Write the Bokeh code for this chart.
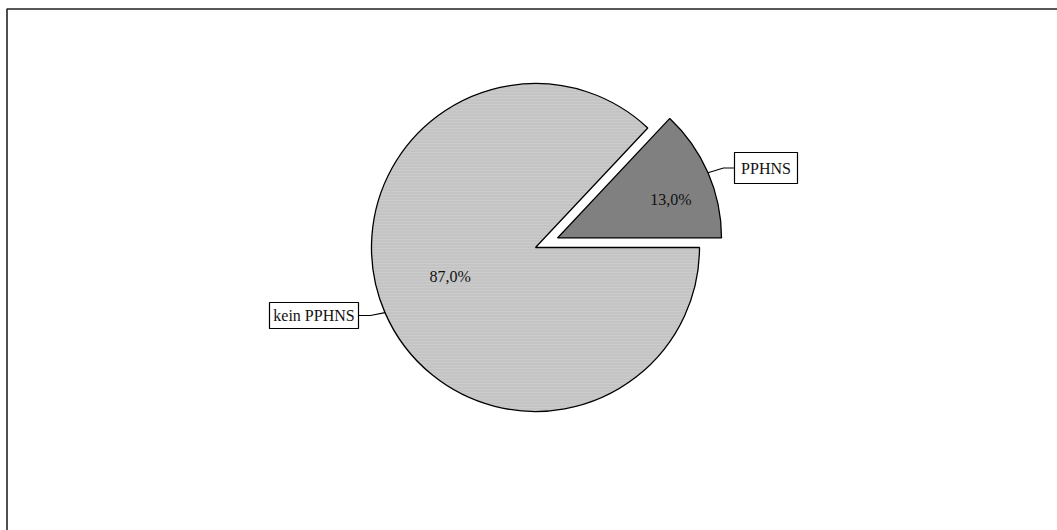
import math
from bokeh.plotting import figure
from bokeh.models import Range1d, ColumnDataSource
from bokeh.core.properties import value
from bokeh.embed import file_html
from bokeh.resources import INLINE

# Share of cases with and without PPHNS
categories = ["PPHNS", "kein PPHNS"]
shares = [13.0, 87.0]
share_labels = ["13,0%", "87,0%"]
slice_colors = ["#808080", "#c4c4c4"]
stripe_colors = ["#808080", "#d2d2d2"]

W, H = 1057, 530
FONT = "Liberation Serif"


def Y(py):
    """Convert a top-down pixel row to the plot's bottom-up y coordinate."""
    return H - py


p = figure(width=W, height=H, output_backend="svg", toolbar_location=None,
           x_range=Range1d(0, W), y_range=Range1d(0, H), min_border=0)
p.axis.visible = False
p.grid.visible = False
p.outline_line_color = None
p.background_fill_color = "white"
p.border_fill_color = "white"

# chart area frame (runs off the right and bottom edge)
p.line([1070, 6.5, 6.5], [Y(8.5), Y(8.5), Y(545)], line_color="#222222", line_width=1.6)

# pie geometry
cx, cy, r = 535.0, Y(247), 164.0
explode = 24.0
total = sum(shares)

starts, ends = [], []
acc = 0.0
for s in shares:
    starts.append(2 * math.pi * acc / total)
    acc += s
    ends.append(2 * math.pi * acc / total)

xs, ys, mids = [], [], []
for i, cat in enumerate(categories):
    mid = (starts[i] + ends[i]) / 2
    mids.append(mid)
    off = explode if cat == "PPHNS" else 0.0
    xs.append(cx + off * math.cos(mid))
    ys.append(cy + off * math.sin(mid))

src = ColumnDataSource(dict(x=xs, y=ys, start=starts, end=ends, color=slice_colors,
                            stripe=stripe_colors, label=share_labels, cat=categories))
p.wedge(x="x", y="y", radius=r, start_angle="start", end_angle="end",
        fill_color="color", line_color="black", line_width=1.3,
        hatch_pattern="horizontal_line", hatch_color="stripe", hatch_alpha=0.5,
        hatch_scale=3, hatch_weight=1, source=src)

# percentage labels inside the slices
lab_r = [0.73, 0.55]
tilt = math.radians(-4.5)
lx = [xs[i] + lab_r[i] * r * math.cos(mids[i] + tilt) for i in range(2)]
ly = [ys[i] + lab_r[i] * r * math.sin(mids[i] + tilt) for i in range(2)]
p.text(x=lx, y=ly, text=share_labels, text_font=value(FONT), text_font_size="16px",
       text_color="#111111", text_align="center", text_baseline="middle")

# category callouts: boxed label plus leader line to the arc
boxes = {
    "PPHNS": (734, 797, 152, 183),
    "kein PPHNS": (269, 358, 302, 328),
}
for i, cat in enumerate(categories):
    l, rgt, t, b = boxes[cat]
    p.quad(left=l, right=rgt, top=Y(t), bottom=Y(b), fill_color="white",
           line_color="black", line_width=1.2)
    p.text(x=[(l + rgt) / 2], y=[Y((t + b) / 2)], text=[cat], text_font=value(FONT),
           text_font_size="16px", text_color="#111111", text_align="center",
           text_baseline="middle")
    ex = xs[i] + r * math.cos(mids[i])
    ey = ys[i] + r * math.sin(mids[i])
    my = Y((t + b) / 2)
    if ex > cx:
        kx, sx = l - 11, l
    else:
        kx, sx = rgt + 12, rgt
    p.line([ex, kx, sx], [ey, my, my], line_color="black", line_width=1.1)

open("out.html", "w").write(file_html(p, INLINE))
